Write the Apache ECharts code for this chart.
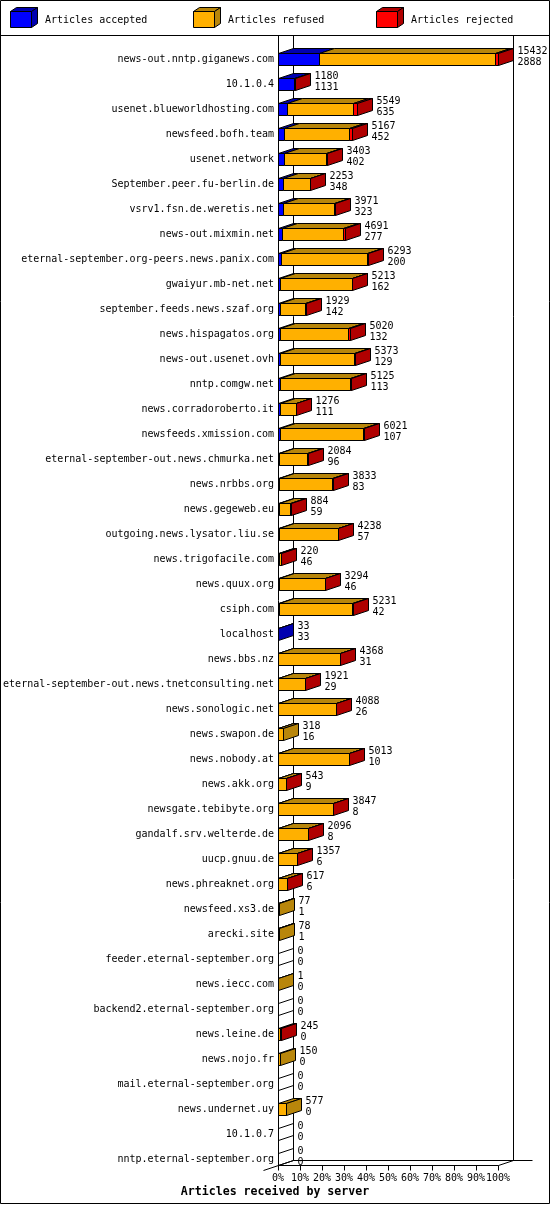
<!DOCTYPE html>
<html>
<head>
<meta charset="utf-8">
<title>Articles received by server</title>
<script src="https://cdn.jsdelivr.net/npm/echarts@6/dist/echarts.min.js"></script>
<style>
html, body { margin: 0; padding: 0; background: #fff; }
#chart { width: 550px; height: 1205px; }
</style>
</head>
<body>
<div id="chart"></div>
<script type="text/javascript">

var servers = [
	'news-out.nntp.giganews.com', '10.1.0.4', 'usenet.blueworldhosting.com', 'newsfeed.bofh.team',
	'usenet.network', 'September.peer.fu-berlin.de', 'vsrv1.fsn.de.weretis.net', 'news-out.mixmin.net',
	'eternal-september.org-peers.news.panix.com', 'gwaiyur.mb-net.net', 'september.feeds.news.szaf.org',
	'news.hispagatos.org', 'news-out.usenet.ovh', 'nntp.comgw.net', 'news.corradoroberto.it',
	'newsfeeds.xmission.com', 'eternal-september-out.news.chmurka.net', 'news.nrbbs.org', 'news.gegeweb.eu',
	'outgoing.news.lysator.liu.se', 'news.trigofacile.com', 'news.quux.org', 'csiph.com', 'localhost',
	'news.bbs.nz', 'eternal-september-out.news.tnetconsulting.net', 'news.sonologic.net', 'news.swapon.de',
	'news.nobody.at', 'news.akk.org', 'newsgate.tebibyte.org', 'gandalf.srv.welterde.de', 'uucp.gnuu.de',
	'news.phreaknet.org', 'newsfeed.xs3.de', 'arecki.site', 'feeder.eternal-september.org', 'news.iecc.com',
	'backend2.eternal-september.org', 'news.leine.de', 'news.nojo.fr', 'mail.eternal-september.org',
	'news.undernet.uy', '10.1.0.7', 'nntp.eternal-september.org'
];

var accepted = [2888, 1131, 635, 452, 402, 348, 323, 277, 200, 162, 142, 132, 129, 113, 111, 107, 96, 83, 59,
	57, 46, 46, 42, 33, 31, 29, 26, 16, 10, 9, 8, 8, 6, 6, 1, 1, 0, 0, 0, 0, 0, 0, 0, 0, 0];

var refused = [12354, 0, 4594, 4505, 2971, 1880, 3618, 4294, 6053, 5021, 1767, 4788, 5214, 4922, 1150, 5884,
	1968, 3725, 810, 4156, 144, 3228, 5164, 0, 4287, 1877, 4022, 302, 4963, 524, 3819, 2073, 1341, 601, 76, 77,
	0, 1, 0, 150, 150, 0, 577, 0, 0];

var rejected = [190, 49, 320, 210, 30, 25, 30, 120, 40, 30, 20, 100, 30, 90, 15, 30, 20, 25, 15, 25, 30, 20,
	25, 0, 50, 15, 40, 0, 40, 10, 20, 15, 10, 10, 0, 0, 0, 0, 0, 95, 0, 0, 0, 0, 0];

var xTicks = [0, 10, 20, 30, 40, 50, 60, 70, 80, 90, 100];

var legendNames = ['Articles accepted', 'Articles refused', 'Articles rejected'];
var frontColors = ['#0000ff', '#ffb000', '#ff0000'];
var darkColors = ['#0000b0', '#b8860b', '#b00000'];

var FONT = '"DejaVu Sans Mono", monospace';
var DX = 15, DY = 5, HALF = 6;

var totals = [];
for (var i = 0; i < servers.length; i++) {
	totals.push(accepted[i] + refused[i] + rejected[i]);
}
var maxTotal = Math.max.apply(null, totals);

function px(v) {
	return Math.round(v) + 0.5;
}

function lineEl(x1, y1, x2, y2) {
	return {
		type: 'line',
		shape: { x1: x1, y1: y1, x2: x2, y2: y2 },
		style: { stroke: '#000', lineWidth: 1 }
	};
}

// the 3d box behind the bars
function renderFrame(params, api) {
	var top = 35.5;
	var last = servers.length - 1;
	var pL = api.coord([0, last]);
	var pR = api.coord([100, last]);
	var floor = px(pL[1] + HALF);
	var xL = px(pL[0]);
	var xR = px(pR[0]);
	var children = [
		lineEl(xL, top, xL, floor),
		lineEl(xL + DX, top, xL + DX, floor - DY),
		lineEl(xR + DX, top, xR + DX, floor - DY),
		lineEl(xL + DX, floor - DY, xR + DX + 19, floor - DY),
		lineEl(xL, floor, xR, floor),
		lineEl(xR, floor, xR + DX, floor - DY),
		lineEl(xL - DX, floor + DY, xL + DX, floor - DY)
	];
	for (var t = 0; t < xTicks.length; t++) {
		var x = px(api.coord([xTicks[t], last])[0]);
		children.push(lineEl(x, floor, x, floor + 5));
	}
	return { type: 'group', children: children };
}

function renderBar(params, api) {
	var i = params.dataIndex;
	var vals = [accepted[i], refused[i], rejected[i]];
	var c = api.coord([0, i]);
	var yT = px(c[1] - HALF);
	var yB = px(c[1] + HALF);
	var xa = px(c[0]);
	var cum = 0;
	var lastSeg = -1;
	var fronts = [];
	var tops = [];
	for (var k = 0; k < 3; k++) {
		if (vals[k] <= 0) continue;
		cum += vals[k];
		var xb = px(api.coord([cum / maxTotal * 100, i])[0]);
		fronts.push({
			type: 'rect',
			shape: { x: xa, y: yT, width: xb - xa, height: yB - yT },
			style: { fill: frontColors[k], stroke: '#000', lineWidth: 1 }
		});
		tops.push({
			type: 'polygon',
			shape: { points: [[xa, yT], [xb, yT], [xb + DX, yT - DY], [xa + DX, yT - DY]] },
			style: { fill: darkColors[k], stroke: '#000', lineWidth: 1 }
		});
		xa = xb;
		lastSeg = k;
	}
	var side = {
		type: 'polygon',
		shape: { points: [[xa, yT], [xa + DX, yT - DY], [xa + DX, yB - DY], [xa, yB]] },
		style: { fill: lastSeg < 0 ? 'none' : darkColors[lastSeg], stroke: '#000', lineWidth: 1 }
	};
	var label = {
		type: 'text',
		style: {
			x: xa + DX + 4,
			y: c[1] - 2,
			text: totals[i] + '\n' + accepted[i],
			fill: '#000',
			fontSize: 10,
			fontFamily: FONT,
			lineHeight: 11,
			verticalAlign: 'middle'
		}
	};
	return { type: 'group', children: fronts.concat(tops, [side, label]) };
}

// legend cubes are drawn by hand
var legendGraphics = [
	{ type: 'rect', shape: { x: 0.5, y: 0.5, width: 549, height: 1203 }, style: { fill: 'none', stroke: '#000', lineWidth: 1 } },
	{ type: 'line', shape: { x1: 0, y1: 35.5, x2: 550, y2: 35.5 }, style: { stroke: '#000', lineWidth: 1 } }
];
var legendX = [10, 193, 376];
for (var n = 0; n < legendNames.length; n++) {
	var lx = legendX[n] + 0.5;
	var fy = 11.5, fw = 21, fh = 16, d = 6, e = 4;
	legendGraphics.push({
		type: 'rect',
		shape: { x: lx, y: fy, width: fw, height: fh },
		style: { fill: frontColors[n], stroke: '#000', lineWidth: 1 }
	});
	legendGraphics.push({
		type: 'polygon',
		shape: { points: [[lx, fy], [lx + fw, fy], [lx + fw + d, fy - e], [lx + d, fy - e]] },
		style: { fill: darkColors[n], stroke: '#000', lineWidth: 1 }
	});
	legendGraphics.push({
		type: 'polygon',
		shape: { points: [[lx + fw, fy], [lx + fw + d, fy - e], [lx + fw + d, fy + fh - e], [lx + fw, fy + fh]] },
		style: { fill: darkColors[n], stroke: '#000', lineWidth: 1 }
	});
	legendGraphics.push({
		type: 'text',
		x: legendX[n] + 35,
		y: 20.5,
		style: { text: legendNames[n], fill: '#000', fontSize: 10, fontFamily: FONT, verticalAlign: 'middle' }
	});
}

var chart = echarts.init(document.getElementById('chart'), null, { renderer: 'canvas' });

var rowIndex = [];
for (var r = 0; r < servers.length; r++) {
	rowIndex.push([r]);
}

chart.setOption({
	animation: false,
	backgroundColor: '#fff',
	textStyle: { fontFamily: FONT },
	title: {
		text: 'Articles received by server',
		left: 'center',
		top: 1186,
		padding: 0,
		textStyle: { fontFamily: FONT, fontWeight: 'bold', fontSize: 11.6, color: '#000' }
	},
	grid: { left: 278, right: 52, top: 46.5, bottom: 33.5, containLabel: false },
	xAxis: {
		type: 'value',
		min: 0,
		max: 100,
		interval: 10,
		axisLine: { show: false },
		axisTick: { show: false },
		splitLine: { show: false },
		axisLabel: { formatter: '{value}%', margin: 2, fontSize: 10, fontFamily: FONT, color: '#000' }
	},
	yAxis: {
		type: 'category',
		data: servers,
		inverse: true,
		axisLine: { show: false },
		axisTick: { show: false },
		splitLine: { show: false },
		axisLabel: { interval: 0, margin: 4, fontSize: 10, fontFamily: FONT, color: '#000' }
	},
	graphic: legendGraphics,
	series: [
		{
			type: 'custom',
			name: 'frame',
			z: 1,
			silent: true,
			clip: false,
			renderItem: renderFrame,
			data: [[0]]
		},
		{
			type: 'custom',
			name: 'articles',
			z: 2,
			silent: true,
			clip: false,
			renderItem: renderBar,
			data: rowIndex
		}
	]
});
</script>
</body>
</html>
